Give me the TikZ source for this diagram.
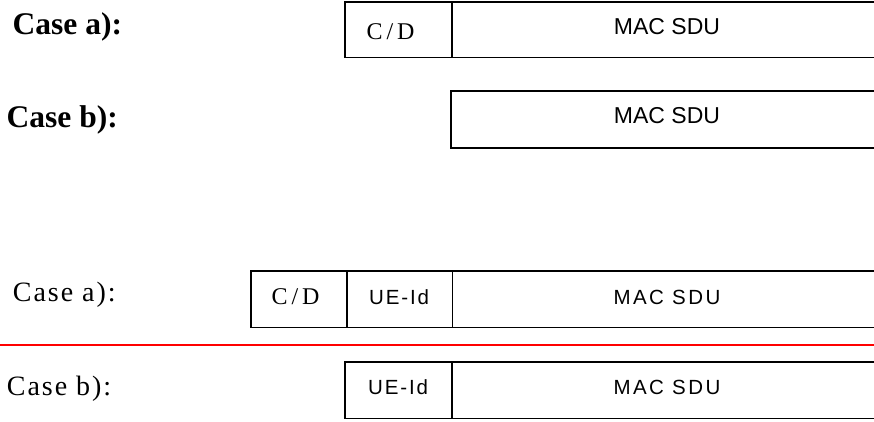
\documentclass[tikz,border=0pt]{standalone}
\usepackage{fontspec}
\setmainfont{Liberation Serif}
\newfontfamily\arialf{Liberation Sans}
\newfontfamily\arialls[LetterSpace=12]{Liberation Sans}
\newfontfamily\arialid[LetterSpace=9]{Liberation Sans}
\newfontfamily\serifls[LetterSpace=7]{Liberation Serif}
\newfontfamily\serifcd[LetterSpace=16]{Liberation Serif}
\begin{document}
\begin{tikzpicture}[x=1pt,y=-1pt,
  cell/.style={line width=1.8pt,draw=black},
  lbl/.style={anchor=base west,inner sep=0pt},
  ctr/.style={anchor=base,inner sep=0pt}]
\useasboundingbox (0,0) rectangle (874,422);
% ---- top case a
\draw[cell] (880,2) -- (345,2) -- (345,57.5) -- (880,57.5);
\draw[cell] (452,2) -- (452,57.5);
\node[lbl,font=\bfseries\fontsize{31.5}{31.5}\selectfont] (ta) at (12.5,35) {Case a):};
\node[lbl,font=\serifcd\fontsize{24}{24}\selectfont] (tcd) at (366.5,40) {C/D};
\node[ctr,font=\arialf\fontsize{23}{23}\selectfont] (tmac1) at (667,35) {MAC SDU};
% ---- top case b
\draw[cell] (880,91) -- (451,91) -- (451,148) -- (880,148);
\node[lbl,font=\bfseries\fontsize{31.5}{31.5}\selectfont] (tb) at (6.5,128) {Case b):};
\node[ctr,font=\arialf\fontsize{23}{23}\selectfont] (tmac2) at (667,124) {MAC SDU};
% ---- lower case a
\draw[cell] (880,271) -- (251,271) -- (251,327.5) -- (880,327.5);
\draw[cell] (347,271) -- (347,327.5);
\draw[cell] (452.5,271) -- (452.5,327.5);
\node[lbl,font=\serifls\fontsize{28}{28}\selectfont] (la) at (12.7,301.7) {Case a):};
\node[lbl,font=\serifcd\fontsize{24}{24}\selectfont] (lcd) at (271.5,304) {C/D};
\node[lbl,font=\arialid\fontsize{20.5}{20.5}\selectfont] (lid1) at (369,304) {UE-Id};
\node[ctr,font=\arialls\fontsize{20.5}{20.5}\selectfont] (lmac1) at (667,304) {MAC SDU};
% ---- red separator
\coordinate (r0) at (0,345);
\coordinate (r1) at (880,345);
\draw[red,line width=2.2pt] (r0) -- (r1);
% ---- lower case b
\draw[cell] (880,362) -- (345,362) -- (345,418.5) -- (880,418.5);
\draw[cell] (452,362) -- (452,418.5);
\node[lbl,font=\serifls\fontsize{28}{28}\selectfont] (lb) at (6.7,395) {Case b):};
\node[lbl,font=\arialid\fontsize{20.5}{20.5}\selectfont] (lid2) at (368,394) {UE-Id};
\node[ctr,font=\arialls\fontsize{20.5}{20.5}\selectfont] (lmac2) at (667,394) {MAC SDU};
\end{tikzpicture}
\end{document}
